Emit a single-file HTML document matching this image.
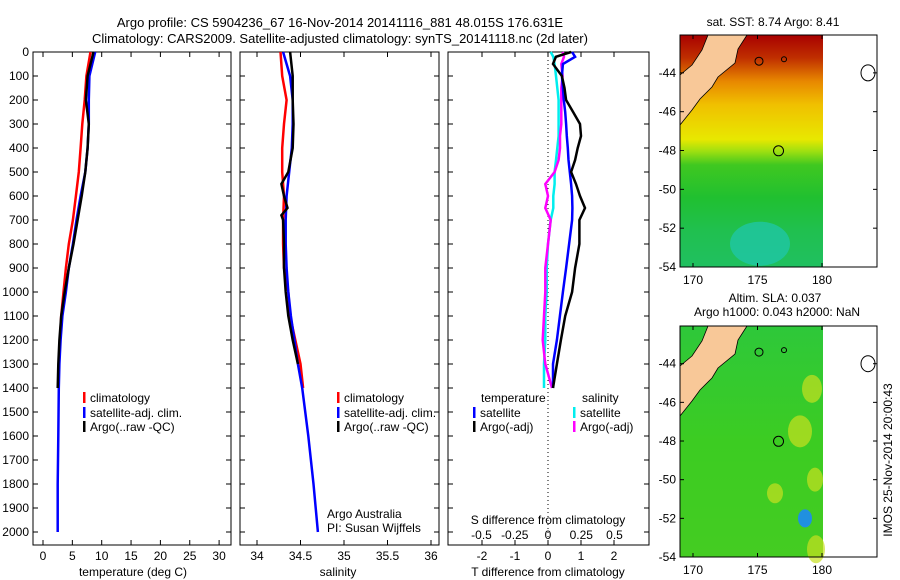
<!DOCTYPE html>
<html><head><meta charset="utf-8"><style>
body{margin:0;background:#fff}
svg{display:block;font-family:"Liberation Sans",sans-serif;font-size:12px}
</style></head><body>
<svg id="fig" width="900" height="580" viewBox="0 0 900 580">
<text x="340" y="27" text-anchor="middle" font-size="13">Argo profile: CS 5904236_67 16-Nov-2014 20141116_881 48.015S 176.631E</text>
<text x="340" y="43" text-anchor="middle" font-size="13">Climatology: CARS2009. Satellite-adjusted climatology: synTS_20141118.nc (2d later)</text>
<g id="g"></g>
</svg>
<script>
// ---- data ----
const depthTicks=[0,100,200,300,400,500,600,700,800,900,1000,1100,1200,1300,1400,1500,1600,1700,1800,1900,2000];
const tempTicks=[0,5,10,15,20,25,30];
const salTicks=[34,34.5,35,35.5,36];
const tdTicks=[-2,-1,0,1,2];
const sdTicks=[-0.5,-0.25,0,0.25,0.5];
const zA=[0,100,200,300,400,500,600,700,800,900,1000,1100,1200,1300,1400];
const zB=[0,100,200,300,400,500,600,700,800,900,1000,1100,1200,1300,1400,1600,1800,2000];
const tClim=[8.1,7.4,7.1,6.7,6.4,6.1,5.6,5.1,4.4,3.9,3.5,3.1,2.9,2.7,2.6];
const tSat=[8.9,7.9,7.8,7.8,7.6,7.2,6.4,5.7,5.1,4.4,3.9,3.3,3.0,2.8,2.7,2.6,2.5,2.5];
const tArgo=[8.6,7.6,7.3,7.8,7.6,7.2,6.6,5.9,5.2,4.4,3.7,3.1,2.8,2.6,2.5];
const sClim=[34.27,34.29,34.34,34.31,34.29,34.29,34.31,34.30,34.30,34.31,34.36,34.38,34.44,34.50,34.53];
const sSat=[34.30,34.38,34.41,34.41,34.40,34.37,34.34,34.33,34.33,34.34,34.36,34.39,34.43,34.47,34.52,34.59,34.65,34.70];
const zS=[0,100,200,300,400,500,550,600,650,680,700,800,900,1000,1100,1200,1300];
const sArgo=[34.38,34.41,34.41,34.42,34.41,34.36,34.28,34.31,34.35,34.28,34.30,34.31,34.31,34.33,34.36,34.41,34.47];
const zD=[0,20,50,100,150,200,250,300,350,400,450,500,550,600,650,700,800,900,1000,1100,1200,1300,1400];
const dTSat=[0.73,0.82,0.45,0.42,0.45,0.48,0.52,0.55,0.57,0.6,0.62,0.66,0.7,0.73,0.74,0.73,0.64,0.55,0.45,0.36,0.27,0.15,0.15];
const dTArgo=[0.7,0.24,0.15,0.42,0.5,0.55,0.76,0.97,1.0,0.9,0.82,0.7,0.85,0.97,1.12,0.95,0.95,0.82,0.73,0.52,0.39,0.27,0.15];
const dSSat=[0.02,0.04,0.05,0.06,0.07,0.08,0.08,0.08,0.08,0.07,0.06,0.05,0.05,0.04,0.04,0.02,0.0,-0.01,-0.01,-0.02,-0.02,-0.03,-0.03];
const dSArgo=[0.11,0.12,0.1,0.11,0.1,0.1,0.1,0.1,0.09,0.09,0.08,0.05,-0.02,0.0,-0.02,0.02,0.0,-0.02,-0.02,-0.03,-0.04,-0.02,0.03];
const latTicks=[-44,-46,-48,-50,-52,-54];
const lonTicks=[170,175,180];
// ---- helpers ----
const NS="http://www.w3.org/2000/svg",G=document.getElementById('g');
function mk(t,a,p){const e=document.createElementNS(NS,t);for(const k in a)e.setAttribute(k,a[k]);(p||G).appendChild(e);return e;}
const Y0=52,Y1=545;
const yD=d=>52+d*0.24;
const xT=v=>43+v*5.87;
const xS=v=>257+(v-34)*87;
const xTD=v=>548+v*33;
const xSD=v=>548+v*133;
function frame(x0,x1,name){const r=mk('rect',{x:x0,y:Y0,width:x1-x0,height:Y1-Y0,fill:'none',stroke:'#000'});

depthTicks.forEach(d=>{mk('line',{x1:x0,x2:x0+5,y1:yD(d),y2:yD(d),stroke:'#000'});mk('line',{x1:x1,x2:x1-5,y1:yD(d),y2:yD(d),stroke:'#000'});});}
function xticks(ticks,f,ty,name){ticks.forEach(t=>{const x=f(t);mk('line',{x1:x,x2:x,y1:Y1,y2:Y1-5,stroke:'#000'});mk('line',{x1:x,x2:x,y1:Y0,y2:Y0+5,stroke:'#000'});
const e=mk('text',{x:x,y:ty,'text-anchor':'middle'});e.textContent=t;});}
function prof(xs,zs,fx,col,name,w){const pts=xs.map((v,i)=>{const x=fx(v),y=yD(zs[i]);return x.toFixed(1)+','+y.toFixed(1);}).join(' ');
const e=mk('polyline',{points:pts,fill:'none',stroke:col,'stroke-width':w||2.5});}
function txt(x,y,s,name,anchor,extra){const e=mk('text',Object.assign({x:x,y:y,'text-anchor':anchor||'start'},extra||{}));e.textContent=s;return e;}
function leg(x,y,col,s,name){mk('rect',{x:x,y:y-10,width:2.5,height:11,fill:col});txt(x+7,y,s,name);}
// panel 1
frame(33,231,'temperature-panel');
depthTicks.forEach(d=>txt(29,yD(d)+4,d,'depth-tick-label','end'));
xticks(tempTicks,xT,560,'temp-tick-label');
txt(133,576,'temperature (deg C)','temperature-axis-title','middle');
prof(tClim,zA,xT,'#f00','temp-climatology-line');
prof(tSat,zB,xT,'#00f','temp-satellite-line');
prof(tArgo,zA,xT,'#000','temp-argo-line');
leg(83,402,'#f00','climatology','legend-climatology');
leg(83,417,'#00f','satellite-adj. clim.','legend-satellite');
leg(83,431,'#000','Argo(..raw -QC)','legend-argo');
// panel 2
frame(240,439,'salinity-panel');
xticks(salTicks,xS,560,'sal-tick-label');
txt(338,576,'salinity','salinity-axis-title','middle');
prof(sClim,zA,xS,'#f00','sal-climatology-line');
prof(sSat,zB,xS,'#00f','sal-satellite-line');
prof(sArgo,zS,xS,'#000','sal-argo-line');
leg(337,402,'#f00','climatology','legend-climatology-s');
leg(337,417,'#00f','satellite-adj. clim.','legend-satellite-s');
leg(337,431,'#000','Argo(..raw -QC)','legend-argo-s');
txt(327,518,'Argo Australia','argo-australia-label');
txt(327,532,'PI: Susan Wijffels','pi-label');
// panel 3
frame(448,649,'difference-panel');
mk('line',{x1:548,x2:548,y1:Y0,y2:Y1,stroke:'#000','stroke-dasharray':'1,3'});
xticks(tdTicks,xTD,560,'tdiff-tick-label');
sdTicks.forEach(t=>txt(xSD(t),539,t,'sdiff-tick-label','middle'));
txt(548,524,'S difference from climatology','sdiff-axis-title','middle');
txt(548,576,'T difference from climatology','tdiff-axis-title','middle');
prof(dSSat,zD,xSD,'#0ee','sdiff-satellite-line');
prof(dSArgo,zD,xSD,'#f0f','sdiff-argo-line');
prof(dTSat,zD,xTD,'#00f','tdiff-satellite-line');
prof(dTArgo,zD,xTD,'#000','tdiff-argo-line');
txt(481,402,'temperature','legend-temp-heading');
txt(582,402,'salinity','legend-sal-heading');
leg(473,417,'#00f','satellite','legend-tsat');
leg(473,431,'#000','Argo(-adj)','legend-targo');
leg(573,417,'#0ee','satellite','legend-ssat');
leg(573,431,'#f0f','Argo(-adj)','legend-sargo');
// maps
function map(top,bot,name,bottomMap){
 const lat=v=>top+( (-42.05)-v)/(12)*(bot-top)*1.0;
 const ly=v=>top+(v-(-42.05))/(-54-(-42.05))*(bot-top);
 const lx=v=>693+(v-170)*12.9;
 const defs=mk('defs',{});
 const gid=name+'-grad';
 const lg=mk('linearGradient',{id:gid,x1:0,y1:0,x2:0,y2:1},defs);
 const stops=bottomMap?[[0,'#2ec83a'],[0.5,'#3ccc22'],[1,'#44cc22']]:[[0,'#a80000'],[0.1,'#c03000'],[0.2,'#e88800'],[0.3,'#f0c000'],[0.45,'#e8e800'],[0.5,'#a0e010'],[0.56,'#40c820'],[0.7,'#20c030'],[0.85,'#20c050'],[1,'#20c060']];
 stops.forEach(s=>mk('stop',{offset:s[0],'stop-color':s[1]},lg));
 const r=mk('rect',{x:680,y:top,width:143,height:bot-top,fill:'url(#'+gid+')'});
 if(!bottomMap){mk('ellipse',{cx:760,cy:ly(-52.8),rx:30,ry:22,fill:'#20c8b0',opacity:0.7});}
 else{[[812,ly(-45.3),10,14],[800,ly(-47.5),12,16],[775,ly(-50.7),8,10],[815,ly(-50),8,12],[816,ly(-53.6),9,14]].forEach(p=>mk('ellipse',{cx:p[0],cy:p[1],rx:p[2],ry:p[3],fill:'#c8e020',opacity:0.7}));
  mk('ellipse',{cx:805,cy:ly(-52),rx:7,ry:9,fill:'#2090e0'});}
 const land=mk('polygon',{points:`708,${top} 747,${top} 738,${top+14} 735,${top+28} 718,${top+42} 712,${top+52} 700,${top+64} 692,${top+75} 680,${top+90} 680,${top+40} 692,${top+30} 702,${top+15}`,fill:'#f8c898',stroke:'#000','stroke-width':0.8});
 
 mk('circle',{cx:759,cy:ly(-43.4),r:4,fill:'none',stroke:'#000'});
 mk('circle',{cx:784,cy:ly(-43.3),r:2.5,fill:'none',stroke:'#000'});
 mk('ellipse',{cx:868,cy:ly(-44),rx:7,ry:8,fill:'#fff',stroke:'#000'});
 const ac=mk('circle',{cx:lx(176.631),cy:ly(-48.015),r:5,fill:'none',stroke:'#000'});
 const f=mk('rect',{x:680,y:top,width:197,height:bot-top,fill:'none',stroke:'#000'});
 latTicks.forEach(v=>{const y=ly(v);mk('line',{x1:680,x2:684,y1:y,y2:y,stroke:'#000'});mk('line',{x1:877,x2:873,y1:y,y2:y,stroke:'#000'});txt(676,y+4,v,'lat-tick-label','end');});
 lonTicks.forEach(v=>{const x=lx(v);mk('line',{x1:x,x2:x,y1:bot,y2:bot-4,stroke:'#000'});mk('line',{x1:x,x2:x,y1:top,y2:top+4,stroke:'#000'});txt(x,bot+17,v,'lon-tick-label','middle');});
}
map(35,267,'sst-map',false);
map(326,557,'sla-map',true);
txt(773,26,'sat. SST: 8.74  Argo: 8.41','sst-map-title','middle');
txt(775,302,'Altim. SLA: 0.037','sla-map-title','middle');
txt(777,316,'Argo h1000: 0.043 h2000: NaN','sla-map-subtitle','middle');
txt(0,0,'IMOS 25-Nov-2014 20:00:43','timestamp-label','middle',{transform:'translate(892,460) rotate(-90)'});
</script>
</body></html>
